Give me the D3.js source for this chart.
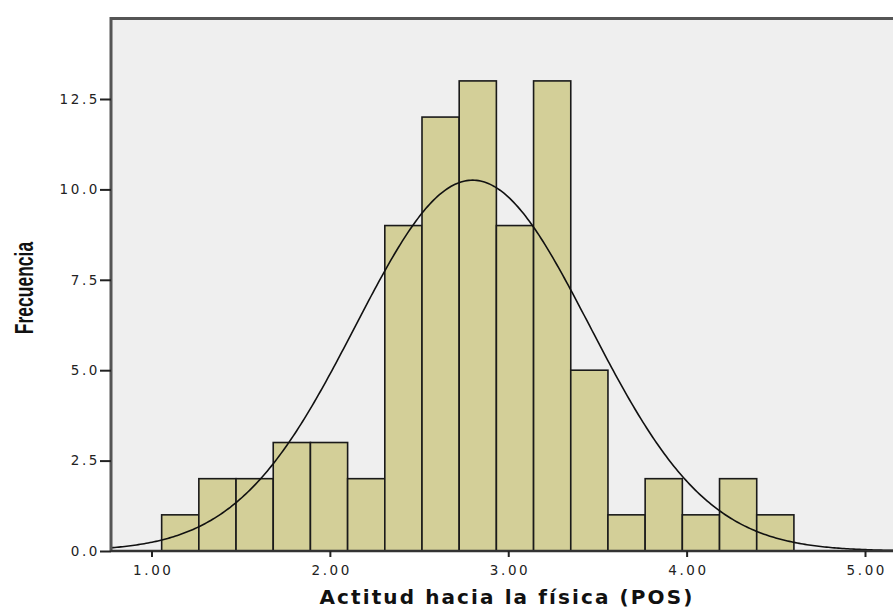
<!DOCTYPE html>
<html>
<head>
<meta charset="utf-8">
<script src="https://cdn.jsdelivr.net/npm/d3@7/dist/d3.min.js"></script>
<style>
  html, body { margin: 0; padding: 0; background: #fff; }
  svg { display: block; }
</style>
</head>
<body>
<svg id="chart" width="893" height="608"></svg>
<script>
// Histogram counts per bin (Actitud hacia la física, POS)
const counts = [1, 2, 2, 3, 3, 2, 9, 12, 13, 9, 13, 5, 1, 2, 1, 2, 1];
const binStart = 1.057;   // lower edge of the first bin
const binWidth = 0.2085;  // width of each bin
// Fitted normal curve parameters
const meanVal = 2.80;
const sdVal = 0.657;
const nObs = d3.sum(counts);
// Axis ticks
const xTicks = [1, 2, 3, 4, 5];
const yTicks = [0, 2.5, 5, 7.5, 10, 12.5];

const svg = d3.select("#chart");
const plotLeft = 111, plotRight = 893, plotTop = 18.5, plotBottom = 551;

const x = d3.scaleLinear().domain([0.773, 5.157]).range([plotLeft, plotRight]);
const y = d3.scaleLinear().domain([0, 14.726]).range([plotBottom, plotTop]);

// plot background
svg.append("rect")
  .attr("x", plotLeft).attr("y", plotTop)
  .attr("width", plotRight - plotLeft).attr("height", plotBottom - plotTop)
  .attr("fill", "#efefef");

// bars
const bins = counts.map((c, i) => ({ x0: binStart + i * binWidth, x1: binStart + (i + 1) * binWidth, c }));
svg.append("g").selectAll("rect").data(bins).join("rect")
  .attr("x", d => x(d.x0))
  .attr("y", d => y(d.c))
  .attr("width", d => x(d.x1) - x(d.x0))
  .attr("height", d => y(0) - y(d.c))
  .attr("fill", "#d3cf98")
  .attr("stroke", "#1a1a1a")
  .attr("stroke-width", 1.6);

// normal curve scaled to frequencies
const dens = v => nObs * binWidth / (sdVal * Math.sqrt(2 * Math.PI)) * Math.exp(-0.5 * Math.pow((v - meanVal) / sdVal, 2));
const xs = d3.range(0, 401).map(i => x.domain()[0] + (x.domain()[1] - x.domain()[0]) * i / 400);
svg.append("path")
  .datum(xs)
  .attr("fill", "none")
  .attr("stroke", "#111")
  .attr("stroke-width", 1.6)
  .attr("d", d3.line().x(v => x(v)).y(v => y(dens(v))));

// frame: top border
svg.append("line").attr("x1", plotLeft - 1).attr("x2", plotRight).attr("y1", plotTop).attr("y2", plotTop)
  .attr("stroke", "#555").attr("stroke-width", 3);

const tickFont = sel => sel
  .attr("fill", "#222")
  .style("font-family", "'DejaVu Sans', sans-serif")
  .style("font-size", "13.5px")
  .style("letter-spacing", "2.6px");

// y axis
const yAxis = svg.append("g").attr("transform", `translate(${plotLeft},0)`)
  .call(d3.axisLeft(y).tickValues(yTicks).tickFormat(d3.format(".1f")).tickSize(11).tickPadding(0));
yAxis.select(".domain").attr("stroke", "#555").attr("stroke-width", 3).attr("d", `M0,${plotTop - 1.5}V${plotBottom}`);
yAxis.selectAll(".tick line").attr("stroke", "#222").attr("stroke-width", 2);
yAxis.selectAll(".tick text").call(tickFont);

// x axis
const xAxis = svg.append("g").attr("transform", `translate(0,${plotBottom})`)
  .call(d3.axisBottom(x).tickValues(xTicks).tickFormat(d3.format(".2f")).tickSize(6).tickPadding(8));
xAxis.select(".domain").attr("stroke", "#333").attr("stroke-width", 2.5).attr("d", `M${plotLeft},0H${plotRight}`);
xAxis.selectAll(".tick line").attr("stroke", "#222").attr("stroke-width", 2);
xAxis.selectAll(".tick text").call(tickFont).attr("dx", "1.3px");

// axis titles
svg.append("text")
  .attr("x", 507).attr("y", 604)
  .attr("text-anchor", "middle")
  .style("font-family", "'DejaVu Sans', sans-serif")
  .style("font-weight", "bold")
  .style("font-size", "20px")
  .style("letter-spacing", "2.1px")
  .attr("fill", "#111")
  .text("Actitud hacia la física (POS)");

svg.append("text")
  .attr("transform", "translate(33,288) rotate(-90) scale(0.7,1)")
  .attr("text-anchor", "middle")
  .style("font-family", "'Liberation Sans', Arial, sans-serif")
  .style("font-weight", "bold")
  .style("font-size", "25px")
  .attr("fill", "#111")
  .text("Frecuencia");
</script>
</body>
</html>
